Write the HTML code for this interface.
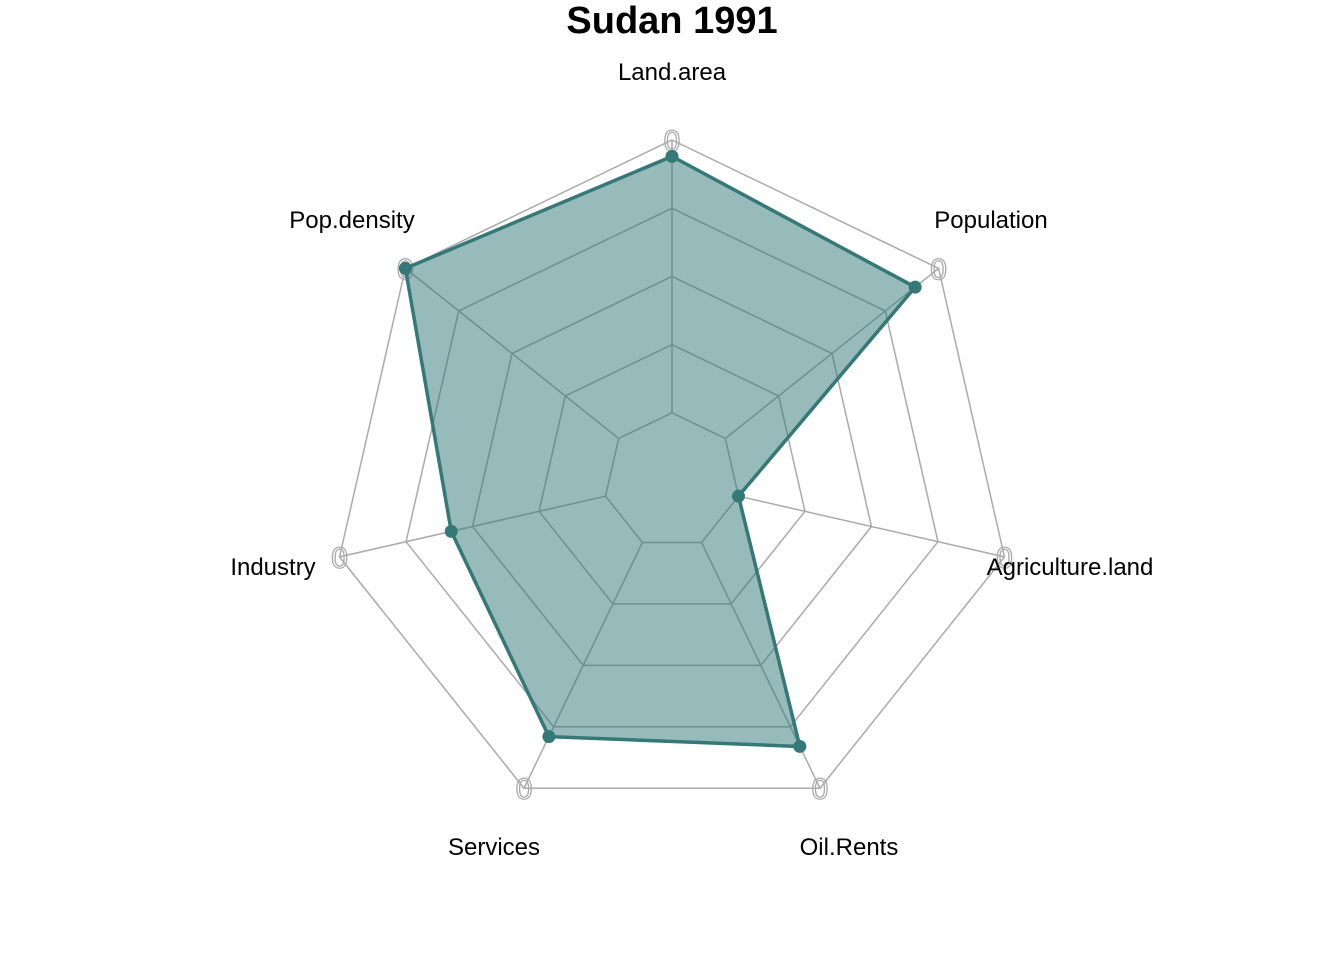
<!DOCTYPE html>
<html><head><meta charset="utf-8"><style>
body{margin:0;background:#fff}
svg{display:block;font-family:"Liberation Sans",Arial,sans-serif}
</style></head><body>
<svg id="chart" width="1344" height="960" viewBox="0 0 1344 960">
<text x="672" y="33" text-anchor="middle" font-size="38" font-weight="bold">Sudan 1991</text>
<g id="grid"></g>
<g id="series"></g>
<g id="labels"></g>
</svg>
<script>
const categories=["Land.area","Population","Agriculture.land","Oil.Rents","Services","Industry","Pop.density"];
const values=[0.94,0.89,0.0,0.83,0.79,0.58,1.0];
const ringLevels=[0,0.25,0.5,0.75,1];
const axisMaxLabel="0";
const cx=672,cy=481,R=341,NS="http://www.w3.org/2000/svg";
const labelOff=[[0,-402],[319,-254],[398,93],[177,373],[-178,373],[-399,93],[-320,-254]];
function rad(v){return R*(0.2+0.8*v);}
function pt(i,v){const a=-Math.PI/2+i*2*Math.PI/categories.length;const r=rad(v);return [cx+r*Math.cos(a),cy+r*Math.sin(a)];}
function mk(tag,attrs,parent){const e=document.createElementNS(NS,tag);for(const k in attrs)e.setAttribute(k,attrs[k]);parent.appendChild(e);return e;}
const grid=document.getElementById('grid'),series=document.getElementById('series'),labels=document.getElementById('labels');
ringLevels.forEach((lv,j)=>{
 const p=mk('polygon',{points:categories.map((c,i)=>pt(i,lv).join(',')).join(' '),fill:'none',stroke:'#aaaaaa','stroke-width':1.5},grid);
 
 
});
categories.forEach((c,i)=>{
 const a=pt(i,0),b=pt(i,1);
 const l=mk('line',{x1:a[0],y1:a[1],x2:b[0],y2:b[1],stroke:'#aaaaaa','stroke-width':1.5},grid);
 
 
 const t=mk('text',{x:b[0],y:b[1]+11,'text-anchor':'middle','font-size':'30',fill:'none',stroke:'#aaaaaa','stroke-width':1.3},grid);
 t.textContent=axisMaxLabel;
 
 
 const lb=mk('text',{x:cx+labelOff[i][0],y:cy+labelOff[i][1]+1,'text-anchor':'middle','font-size':'24',fill:'#000'},labels);
 lb.textContent=c;
 
 
});
const pts=values.map((v,i)=>pt(i,v));
const poly=mk('polygon',{points:pts.map(p=>p.join(',')).join(' '),fill:'rgba(47,117,117,0.5)',stroke:'#357878','stroke-width':3.5,'stroke-linejoin':'round'},series);


pts.forEach((p,i)=>{
 const c=mk('circle',{cx:p[0],cy:p[1],r:6.5,fill:'#357878'},series);
 
 
});
</script>
</body></html>
